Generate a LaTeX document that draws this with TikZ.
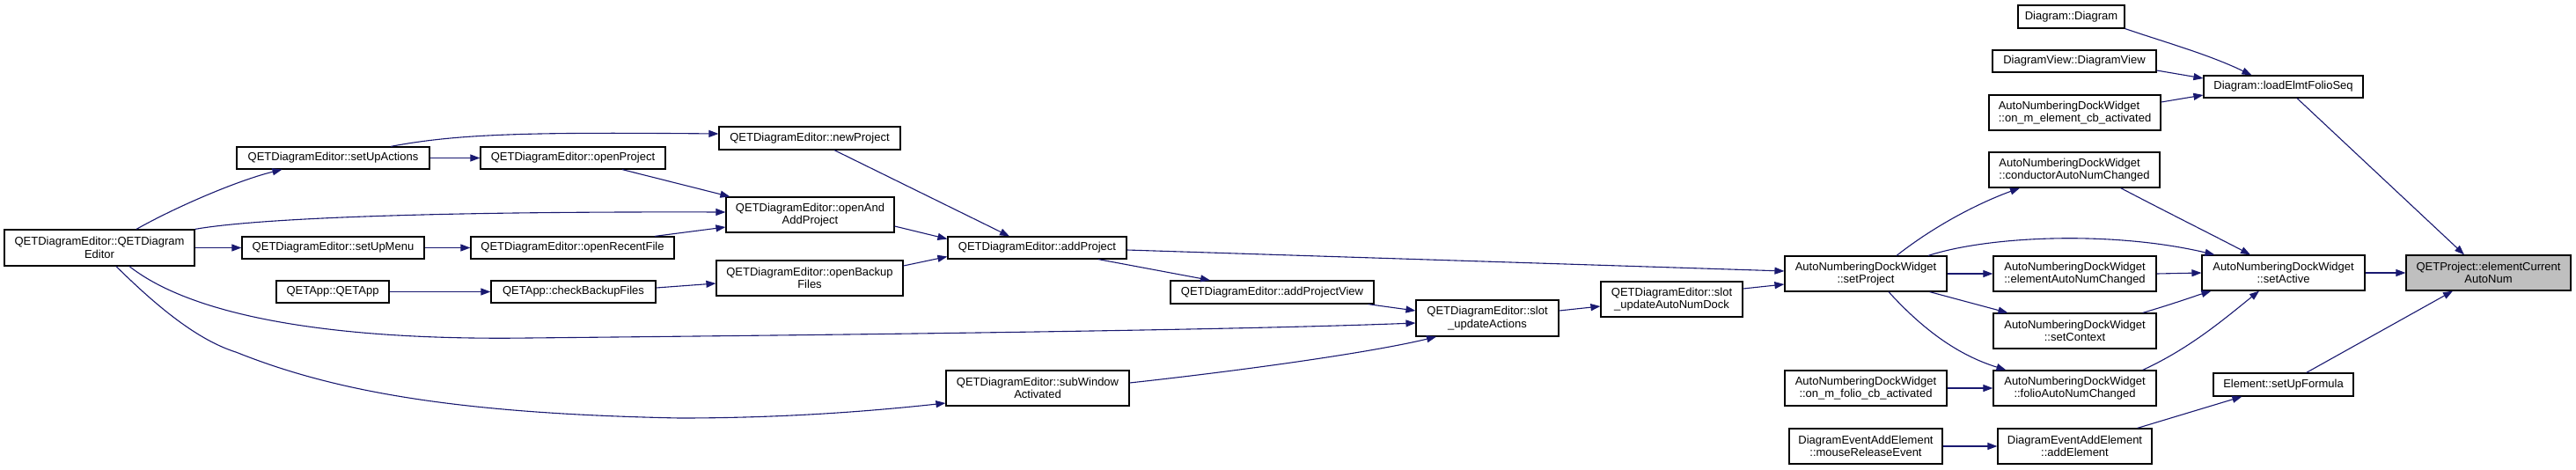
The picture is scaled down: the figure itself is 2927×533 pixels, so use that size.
\documentclass[tikz,border=0pt]{standalone}
\usepackage{fontspec}
\setmainfont{Liberation Sans}
\usetikzlibrary{arrows.meta}
\definecolor{edgec}{HTML}{191970}
\definecolor{graynode}{HTML}{BFBFBF}
\tikzset{
  box/.style={draw=black, line width=1.2pt, inner sep=0pt, align=center, fill=white,
              font=\fontsize{13}{14.5}\selectfont},
  rootbox/.style={fill=graynode},
  edge/.style={draw=edgec, line width=1.1pt, -{Triangle[length=11pt,width=8pt]}},
}
\newcommand\mkbox[7][]{\node[box,#1,minimum width={(#5-#3)*1pt},minimum height={(#6-#4)*1pt}] (#2) at ({(#3+#5)/2},{(#4+#6)/2}) {#7};}
\begin{document}
\begin{tikzpicture}[x=1pt,y=-1pt]
\useasboundingbox (0,0) rectangle (2927,533);
% nodes
\mkbox{qde}{5}{261}{221}{302}{QETDiagramEditor::QETDiagram\\Editor}
\mkbox{sact}{269}{167}{488}{192}{QETDiagramEditor::setUpActions}
\mkbox{smenu}{275}{269}{482}{294}{QETDiagramEditor::setUpMenu}
\mkbox{qa}{314}{319}{442}{344}{QETApp::QETApp}
\mkbox{op}{546}{167}{756}{192}{QETDiagramEditor::openProject}
\mkbox{orf}{535}{269}{766}{294}{QETDiagramEditor::openRecentFile}
\mkbox{cbf}{558}{319}{745}{344}{QETApp::checkBackupFiles}
\mkbox{np}{817}{144}{1023}{170}{QETDiagramEditor::newProject}
\mkbox{oaap}{825}{224}{1016}{264}{QETDiagramEditor::openAnd\\AddProject}
\mkbox{obf}{814}{296}{1026}{336}{QETDiagramEditor::openBackup\\Files}
\mkbox{ap}{1077}{269}{1280}{294}{QETDiagramEditor::addProject}
\mkbox{apv}{1330}{319}{1561}{345}{QETDiagramEditor::addProjectView}
\mkbox{sua}{1609}{341}{1771}{382}{QETDiagramEditor::slot\\\_updateActions}
\mkbox{swa}{1075}{421}{1283}{461}{QETDiagramEditor::subWindow\\Activated}
\mkbox{suand}{1819}{320}{1980}{360}{QETDiagramEditor::slot\\\_updateAutoNumDock}
\mkbox{sp}{2028}{291}{2212}{331}{AutoNumberingDockWidget\\::setProject}
\mkbox{dd}{2293}{6}{2414}{32}{Diagram::Diagram}
\mkbox{dv}{2264}{57}{2450}{82}{DiagramView::DiagramView}
\mkbox[align=left]{omec}{2260}{108}{2455}{148}{AutoNumberingDockWidget\\::on\_m\_element\_cb\_activated}
\mkbox{lefs}{2504}{86}{2685}{111}{Diagram::loadElmtFolioSeq}
\mkbox[align=left]{can}{2260}{173}{2454}{213}{AutoNumberingDockWidget\\::conductorAutoNumChanged}
\mkbox{eanc}{2265}{291}{2450}{331}{AutoNumberingDockWidget\\::elementAutoNumChanged}
\mkbox{sc}{2265}{356}{2450}{396}{AutoNumberingDockWidget\\::setContext}
\mkbox{omfc}{2028}{421}{2212}{461}{AutoNumberingDockWidget\\::on\_m\_folio\_cb\_activated}
\mkbox{fanc}{2265}{421}{2450}{461}{AutoNumberingDockWidget\\::folioAutoNumChanged}
\mkbox{mre}{2033}{487}{2207}{527}{DiagramEventAddElement\\::mouseReleaseEvent}
\mkbox{ae}{2270}{487}{2445}{527}{DiagramEventAddElement\\::addElement}
\mkbox{sa}{2502}{290}{2687}{330}{AutoNumberingDockWidget\\::setActive}
\mkbox{esf}{2515}{424}{2674}{450}{Element::setUpFormula}
\mkbox[rootbox]{qp}{2734}{290}{2921}{330}{QETProject::elementCurrent\\AutoNum}
% edges
\draw[edge] ([xshift=42pt]qde.north) .. controls (200,235) and (270,205) .. ([xshift=-58pt]sact.south);
\draw[edge] (qde.east) -- (smenu.west);
\draw[edge] (qde.north east) .. controls (280,250) and (450,240) .. ([yshift=3pt]oaap.west);
\draw[edge] ([xshift=34pt]qde.south) .. controls (220,360) and (380,387) .. (600,384) .. controls (1000,380) and (1400,375) .. ([yshift=-5.5pt]sua.west);
\draw[edge] ([xshift=19pt]qde.south) .. controls (170,340) and (220,385) .. (268,400) .. controls (380,445) and (520,470) .. (772,475) .. controls (900,475) and (1000,466) .. ([yshift=-17pt]swa.west);
\draw[edge] (sact.east) -- (op.west);
\draw[edge] ([xshift=65.5pt]sact.north) .. controls (520,152) and (600,150) .. ([yshift=5pt]np.west);
\draw[edge] ([xshift=56pt]op.south) -- ([xshift=5pt]oaap.north west);
\draw[edge] ([xshift=93.5pt]orf.north) -- ([yshift=-14pt]oaap.west);
\draw[edge] (smenu.east) -- (orf.west);
\draw[edge] (qa.east) -- (cbf.west);
\draw[edge] ([yshift=4.5pt]cbf.east) -- ([yshift=-6pt]obf.west);
\draw[edge] ([xshift=28pt]np.south) -- ([xshift=-31.5pt]ap.north);
\draw[edge] ([yshift=-13pt]oaap.east) -- ([yshift=10pt]ap.west);
\draw[edge] ([yshift=14pt]obf.east) -- ([yshift=-10pt]ap.west);
\draw[edge] ([xshift=69.5pt]ap.south) -- ([xshift=-70.5pt]apv.north);
\draw[edge] ([yshift=-2.5pt]ap.east) -- ([yshift=3pt]sp.west);
\draw[edge] ([xshift=-7pt]apv.south east) -- ([yshift=8.5pt]sua.west);
\draw[edge] ([yshift=6pt]swa.east) .. controls (1420,420) and (1560,400) .. ([xshift=-58pt]sua.south);
\draw[edge] ([yshift=8.5pt]sua.east) -- ([yshift=-8pt]suand.west);
\draw[edge] ([yshift=12pt]suand.east) -- ([yshift=-12pt]sp.west);
\draw[edge] ([xshift=35pt]sp.north) .. controls (2200,255) and (2250,230) .. ([xshift=-62pt]can.south);
\draw[edge] ([xshift=71pt]sp.north) .. controls (2260,268) and (2400,262) .. ([xshift=15pt]sa.north west);
\draw[edge] (sp.east) -- (eanc.west);
\draw[edge] ([xshift=-20pt]sp.south east) -- ([xshift=17pt]sc.north west);
\draw[edge] ([xshift=26pt]sp.south) .. controls (2190,380) and (2230,405) .. ([xshift=15pt]fanc.north west);
\draw[edge] (omfc.east) -- (fanc.west);
\draw[edge] (mre.east) -- (ae.west);
\draw[edge] ([xshift=-45pt]can.south east) .. controls (2460,240) and (2520,270) .. ([xshift=-37.5pt]sa.north);
\draw[edge] (eanc.east) -- (sa.west);
\draw[edge] ([xshift=-16pt]sc.north east) .. controls (2470,345) and (2495,336) .. ([xshift=11pt]sa.south west);
\draw[edge] ([xshift=-16pt]fanc.north east) .. controls (2490,395) and (2530,360) .. ([xshift=-27.5pt]sa.south);
\draw[edge] ([xshift=-17pt]ae.north east) -- ([xshift=33pt]esf.south west);
\draw[edge] (sa.east) -- (qp.west);
\draw[edge] ([xshift=15.5pt]lefs.south) -- ([xshift=-27.5pt]qp.north);
\draw[edge] ([xshift=-54pt]esf.north east) -- ([xshift=-40.5pt]qp.south);
\draw[edge] (dd.south east) .. controls (2460,48) and (2510,62) .. ([xshift=55pt]lefs.north west);
\draw[edge] ([yshift=-10.5pt]dv.east) -- ([yshift=9.5pt]lefs.west);
\draw[edge] ([yshift=12pt]omec.east) -- ([yshift=-9.5pt]lefs.west);
\end{tikzpicture}
\end{document}
